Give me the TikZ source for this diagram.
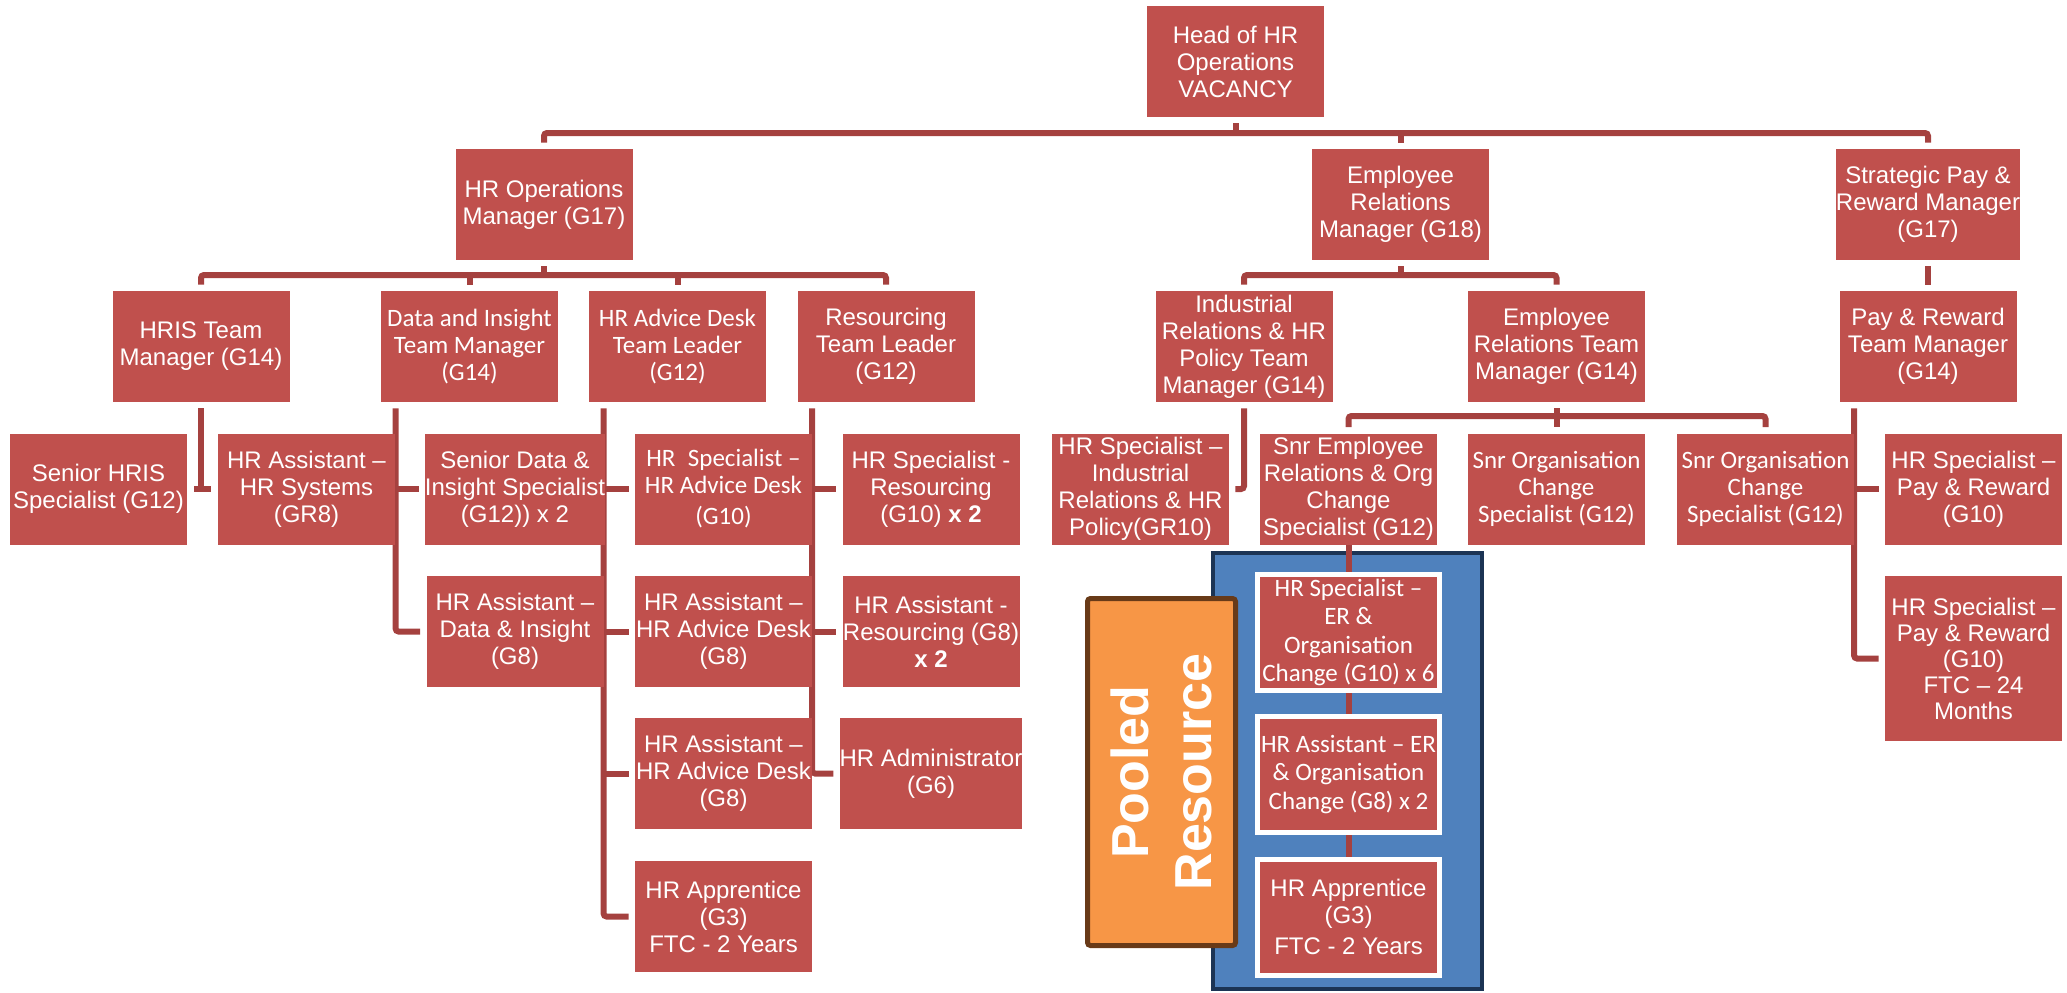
\documentclass[tikz,border=0pt]{standalone}
\usepackage{fontspec}
\setmainfont{Liberation Sans}
\newfontfamily\aptfont{Carlito}
\usetikzlibrary{backgrounds}
\definecolor{boxred}{HTML}{C0504D}
\definecolor{connred}{RGB}{165,65,63}
\definecolor{poolblue}{HTML}{4F81BD}
\definecolor{poolnavy}{RGB}{28,52,84}
\definecolor{poolorange}{HTML}{F79646}
\definecolor{poolbrown}{RGB}{104,58,24}
\tikzset{
  box/.style={fill=boxred, text=white, minimum width=88.5pt, minimum height=55.5pt,
    inner sep=0pt, align=center, font=\fontsize{12}{13.5}\selectfont},
  abox/.style={box, font=\aptfont\fontsize{12.5}{13.5}\selectfont},
  poolbox/.style={fill=boxred, draw=white, line width=2.5pt, text=white,
    minimum width=91pt, minimum height=58pt, inner sep=0pt, align=center,
    font=\aptfont\fontsize{12.5}{14.25}\selectfont},
  conn/.style={draw=connred, line width=3pt, rounded corners=1.5pt},
  poolarea/.style={fill=poolblue, draw=poolnavy, line width=2pt,
    minimum width=134.5pt, minimum height=218pt, inner sep=0pt},
  poolside/.style={fill=poolorange, draw=poolbrown, line width=2.5pt, rounded corners=1.5pt,
    minimum width=74pt, minimum height=173.5pt, inner sep=0pt},
}
\begin{document}
\begin{tikzpicture}[x=0.5pt,y=-0.5pt]
\useasboundingbox (0,0) rectangle (2067,992);
% level 1-2
\node[box] (head) at (1235.5,61.5) {Head of HR\\Operations\\VACANCY};
\node[box] (hrops) at (544,204.5) {HR Operations\\Manager (G17)};
\node[box] (erm) at (1400.5,204.5) {Employee\\Relations\\Manager (G18)};
\node[box] (spr) at (1928,204.5) {Strategic Pay \&\\Reward Manager\\(G17)};
% level 3
\node[box] (hris) at (201,346.5) {HRIS Team\\Manager (G14)};
\node[abox] (dit) at (469.5,346.5) {Data and Insight\\Team Manager\\(G14)};
\node[abox] (adtl) at (677.5,346.5) {HR Advice Desk\\Team Leader\\(G12)};
\node[box] (rtl) at (886,346.5) {Resourcing\\Team Leader\\(G12)};
\node[box] (irtm) at (1244,346.5) {Industrial\\Relations \& HR\\Policy Team\\Manager (G14)};
\node[box] (ertm) at (1556.5,346.5) {Employee\\Relations Team\\Manager (G14)};
\node[box] (prtm) at (1928,346.5) {Pay \& Reward\\Team Manager\\(G14)};
% level 4
\node[box] (shris) at (98.5,489) {Senior HRIS\\Specialist (G12)};
\node[box] (hrasys) at (306.5,489) {HR Assistant –\\HR Systems\\(GR8)};
\node[box] (sdis) at (515,489) {Senior Data \&\\Insight Specialist\\(G12)) x 2};
\node[abox] (hrsad) at (723.5,489) {HR\enspace Specialist –\\HR Advice Desk\\[2pt](G10)};
\node[box] (hrsres) at (931,489) {HR Specialist -\\Resourcing\\(G10) \textbf{x 2}};
\node[box] (hrsir) at (1140.5,489) {HR Specialist –\\Industrial\\Relations \& HR\\Policy(GR10)};
\node[box] (snrer) at (1348.5,489) {Snr Employee\\Relations \& Org\\Change\\Specialist (G12)};
\node[abox] (soc1) at (1556.5,489) {Snr Organisation\\Change\\Specialist (G12)};
\node[abox] (soc2) at (1765.5,489) {Snr Organisation\\Change\\Specialist (G12)};
\node[box] (hrspr) at (1973.5,489) {HR Specialist –\\Pay \& Reward\\(G10)};
% level 5
\node[box] (hradi) at (515,631.5) {HR Assistant –\\Data \& Insight\\(G8)};
\node[box] (hraad) at (723.5,631.5) {HR Assistant –\\HR Advice Desk\\(G8)};
\node[box] (hrares) at (931,631.5) {HR Assistant -\\Resourcing (G8)\\\textbf{x 2}};
\node[box, minimum height=82.5pt, font=\fontsize{12}{13}\selectfont] (hrsprf) at (1973.5,658.5)
  {HR Specialist –\\Pay \& Reward\\(G10)\\FTC – 24\\Months};
% level 6-7
\node[box] (hraad2) at (723.5,773.5) {HR Assistant –\\HR Advice Desk\\(G8)};
\node[box] (hradm) at (931,773.5) {HR Administrator\\(G6)};
\node[box] (hrapp) at (723.5,916.5) {HR Apprentice\\(G3)\\FTC - 2 Years};
% pooled resource
\node[poolside] (poolside) at (1161.5,772) {};
\node[rotate=90, text=white, align=center, font=\bfseries\fontsize{26}{31.5}\selectfont]
  (pooltxt) at (poolside.center) {Pooled\\Resource};
\node[poolbox] (p1) at (1348.5,632.5) {HR Specialist –\\ER \&\\Organisation\\Change (G10) x 6};
\node[poolbox] (p2) at (1348.5,774.5) {HR Assistant – ER\\\& Organisation\\Change (G8) x 2};
\node[poolbox, font=\fontsize{12}{13.5}\selectfont] (p3) at (1348.5,917) {HR Apprentice\\(G3)\\[2pt]FTC - 2 Years};

\begin{pgfonlayer}{background}
\node[poolarea] (poolarea) at (1347.5,771) {};
\coordinate (b1) at (0,133);
\coordinate (b2) at (0,275);
\coordinate (b3) at (0,416);
% top level
\draw[conn] ([yshift=-3pt]head.south) -- (head.south |- b1);
\draw[conn] ([yshift=3pt]hrops.north) |- (b1 -| spr.north) -- ([yshift=3pt]spr.north);
\draw[conn] (erm.north |- b1) -- ([yshift=3pt]erm.north);
% HR operations
\draw[conn] ([yshift=-3pt]hrops.south) -- (hrops.south |- b2);
\draw[conn] ([yshift=3pt]hris.north) |- (b2 -| rtl.north) -- ([yshift=3pt]rtl.north);
\draw[conn] (dit.north |- b2) -- ([yshift=3pt]dit.north);
\draw[conn] (adtl.north |- b2) -- ([yshift=3pt]adtl.north);
% employee relations
\draw[conn] ([yshift=-3pt]erm.south) -- (erm.south |- b2);
\draw[conn] ([yshift=3pt]irtm.north) |- (b2 -| ertm.north) -- ([yshift=3pt]ertm.north);
% strategic pay
\draw[conn] ([yshift=-3pt]spr.south) -- ([yshift=3pt]prtm.north);
% HRIS
\draw[conn] ([yshift=-3pt]hris.south) -- (hris.south |- shris.east);
\draw[conn] ([xshift=3.5pt]shris.east) -- ([xshift=-3.5pt]hrasys.west);
% Data and insight
\coordinate (dv) at ([xshift=7.5pt,yshift=-3pt]dit.south west);
\draw[conn] (dv) |- ([xshift=-3pt]hradi.west);
\draw[conn] (dv |- sdis.west) -- ([xshift=-3pt]sdis.west);
% Advice desk
\coordinate (av) at ([xshift=7.5pt,yshift=-3pt]adtl.south west);
\draw[conn] (av) |- ([xshift=-3pt]hrapp.west);
\draw[conn] (av |- hrsad.west) -- ([xshift=-3pt]hrsad.west);
\draw[conn] (av |- hraad.west) -- ([xshift=-3pt]hraad.west);
\draw[conn] (av |- hraad2.west) -- ([xshift=-3pt]hraad2.west);
% Resourcing
\coordinate (rv) at ([xshift=7.5pt,yshift=-3pt]rtl.south west);
\draw[conn] (rv) |- ([xshift=-3pt]hradm.west);
\draw[conn] (rv |- hrsres.west) -- ([xshift=-3pt]hrsres.west);
\draw[conn] (rv |- hrares.west) -- ([xshift=-3pt]hrares.west);
% Industrial relations
\draw[conn] ([yshift=-3pt]irtm.south) |- ([xshift=3pt]hrsir.east);
% ER team
\draw[conn] ([yshift=-3pt]ertm.south) -- ([yshift=3pt]soc1.north);
\draw[conn] ([yshift=3pt]snrer.north) |- (b3 -| soc2.north) -- ([yshift=3pt]soc2.north);
% Pay and reward
\coordinate (pv) at ([xshift=7.5pt,yshift=-3pt]prtm.south west);
\draw[conn] (pv) |- ([xshift=-3pt]hrsprf.west);
\draw[conn] (pv |- hrspr.west) -- ([xshift=-3pt]hrspr.west);
% pooled chain
\draw[conn] (snrer.south) -- (p1.north);
\draw[conn] (p1.south) -- (p2.north);
\draw[conn] (p2.south) -- (p3.north);
\end{pgfonlayer}
\end{tikzpicture}
\end{document}
